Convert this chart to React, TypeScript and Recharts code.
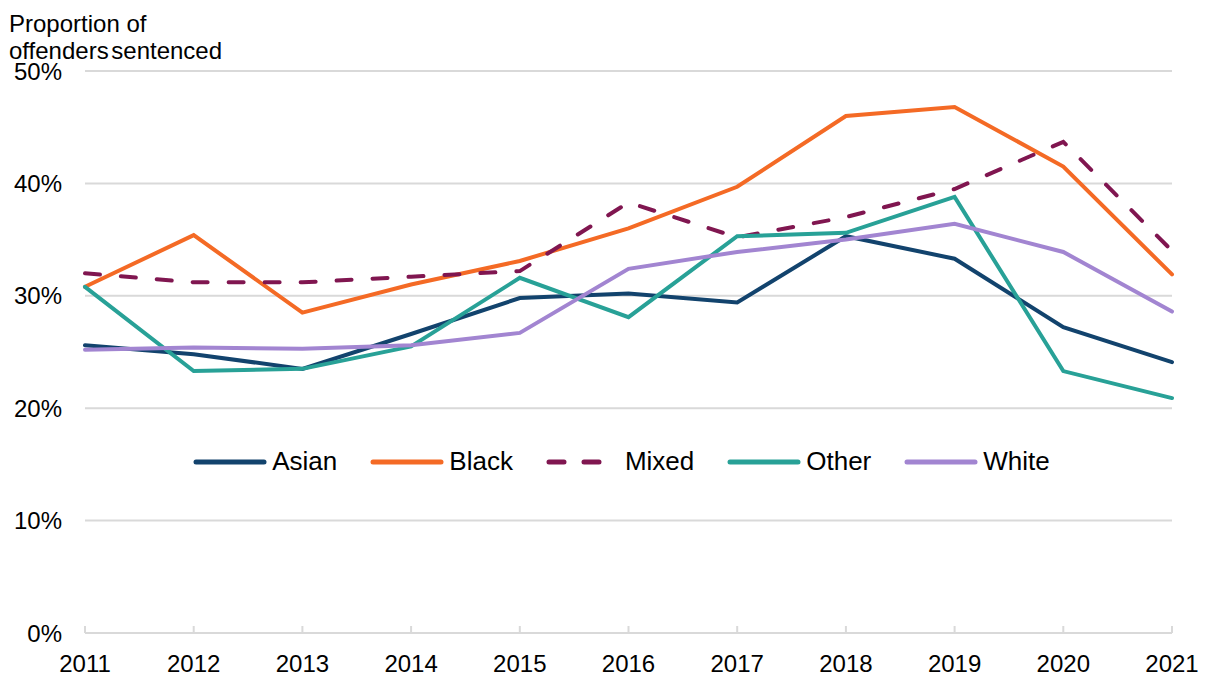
import React from "react";
import { LineChart, Line, XAxis, YAxis, CartesianGrid, Legend } from "recharts";

const years = ["2011", "2012", "2013", "2014", "2015", "2016", "2017", "2018", "2019", "2020", "2021"];
const asian = [25.6, 24.8, 23.5, 26.6, 29.8, 30.2, 29.4, 35.3, 33.3, 27.2, 24.1];
const black = [30.8, 35.4, 28.5, 31.0, 33.1, 36.0, 39.7, 46.0, 46.8, 41.5, 31.9];
const mixed = [32.0, 31.2, 31.2, 31.7, 32.2, 38.3, 35.2, 37.0, 39.5, 43.7, 34.0];
const other = [30.8, 23.3, 23.5, 25.5, 31.6, 28.1, 35.3, 35.6, 38.8, 23.3, 20.9];
const white = [25.2, 25.4, 25.3, 25.6, 26.7, 32.4, 33.9, 35.0, 36.4, 33.9, 28.6];
const yTicks = [0, 10, 20, 30, 40, 50];

const seriesNames = ["Asian", "Black", "Mixed", "Other", "White"];
const seriesColors = ["#12436D", "#F46A25", "#801650", "#28A197", "#A285D1"];
const seriesValues = [asian, black, mixed, other, white];

const data = years.map((y, i) => {
  const row: Record<string, any> = { year: y };
  seriesNames.forEach((n, k) => {
    row[n] = seriesValues[k][i];
  });
  return row;
});

const FONT = "'Liberation Sans', Arial, sans-serif";

const XTick = (props: any) => {
  const { x, y, payload } = props;
  return (
    <g>
      <line x1={x} x2={x} y1={y - 7} y2={y} stroke="#d9d9d9" strokeWidth={2} />
      <text x={x} y={y + 39} textAnchor="middle" fontSize={24} fontFamily={FONT} fill="#000">
        {payload.value}
      </text>
    </g>
  );
};

const renderLegend = () => (
  <div
    style={{
      display: "flex",
      justifyContent: "center",
      alignItems: "center",
      fontFamily: FONT,
      fontSize: 26,
      color: "#000",
    }}
  >
    {seriesNames.map((n, k) => (
      <div key={n} style={{ display: "flex", alignItems: "center", marginRight: k === seriesNames.length - 1 ? 0 : 33 }}>
        <svg width={74} height={10} style={{ marginRight: 5 }}>
          <line
            x1={3}
            x2={71}
            y1={5}
            y2={5}
            stroke={seriesColors[k]}
            strokeWidth={5}
            strokeLinecap="round"
            strokeDasharray={n === "Mixed" ? "15 20" : undefined}
          />
        </svg>
        <span>{n}</span>
      </div>
    ))}
  </div>
);

export default function App() {
  return (
    <div style={{ position: "absolute", left: 0, top: 0, width: 1205, height: 677, background: "#fff" }}>
      <div
        style={{
          position: "absolute",
          left: 9,
          top: 10,
          fontFamily: FONT,
          fontSize: 24,
          lineHeight: "27px",
          color: "#000",
          zIndex: 2,
        }}
      >
        Proportion of
        <br />
        <span style={{ wordSpacing: -4 }}>offenders sentenced</span>
      </div>
      <LineChart
        width={1205}
        height={677}
        data={data}
        margin={{ top: 71, right: 33, bottom: 0, left: 0 }}
      >
        <CartesianGrid vertical={false} stroke="#d9d9d9" strokeWidth={2} />
        <XAxis
          dataKey="year"
          height={44}
          tickLine={false}
          tickSize={0}
          tickMargin={0}
          axisLine={{ stroke: "#d9d9d9", strokeWidth: 2 }}
          tick={<XTick />}
          interval={0}
        />
        <YAxis
          width={85}
          domain={[0, 50]}
          ticks={yTicks}
          axisLine={false}
          tickLine={false}
          tickSize={0}
          tickMargin={23}
          tickFormatter={(v: number) => `${v}%`}
          tick={{ fontSize: 24, fontFamily: FONT, fill: "#000" }}
        />
        <Legend
          verticalAlign="middle"
          layout="horizontal"
          content={renderLegend}
          wrapperStyle={{ top: 446, left: 0, width: 1243 }}
        />
        {seriesNames.map((n, k) => (
          <Line
            key={n}
            type="linear"
            dataKey={n}
            stroke={seriesColors[k]}
            strokeWidth={4}
            strokeDasharray={n === "Mixed" ? "15 21" : undefined}
            strokeLinecap="round"
            dot={false}
            activeDot={false}
            isAnimationActive={false}
          />
        ))}
      </LineChart>
    </div>
  );
}
